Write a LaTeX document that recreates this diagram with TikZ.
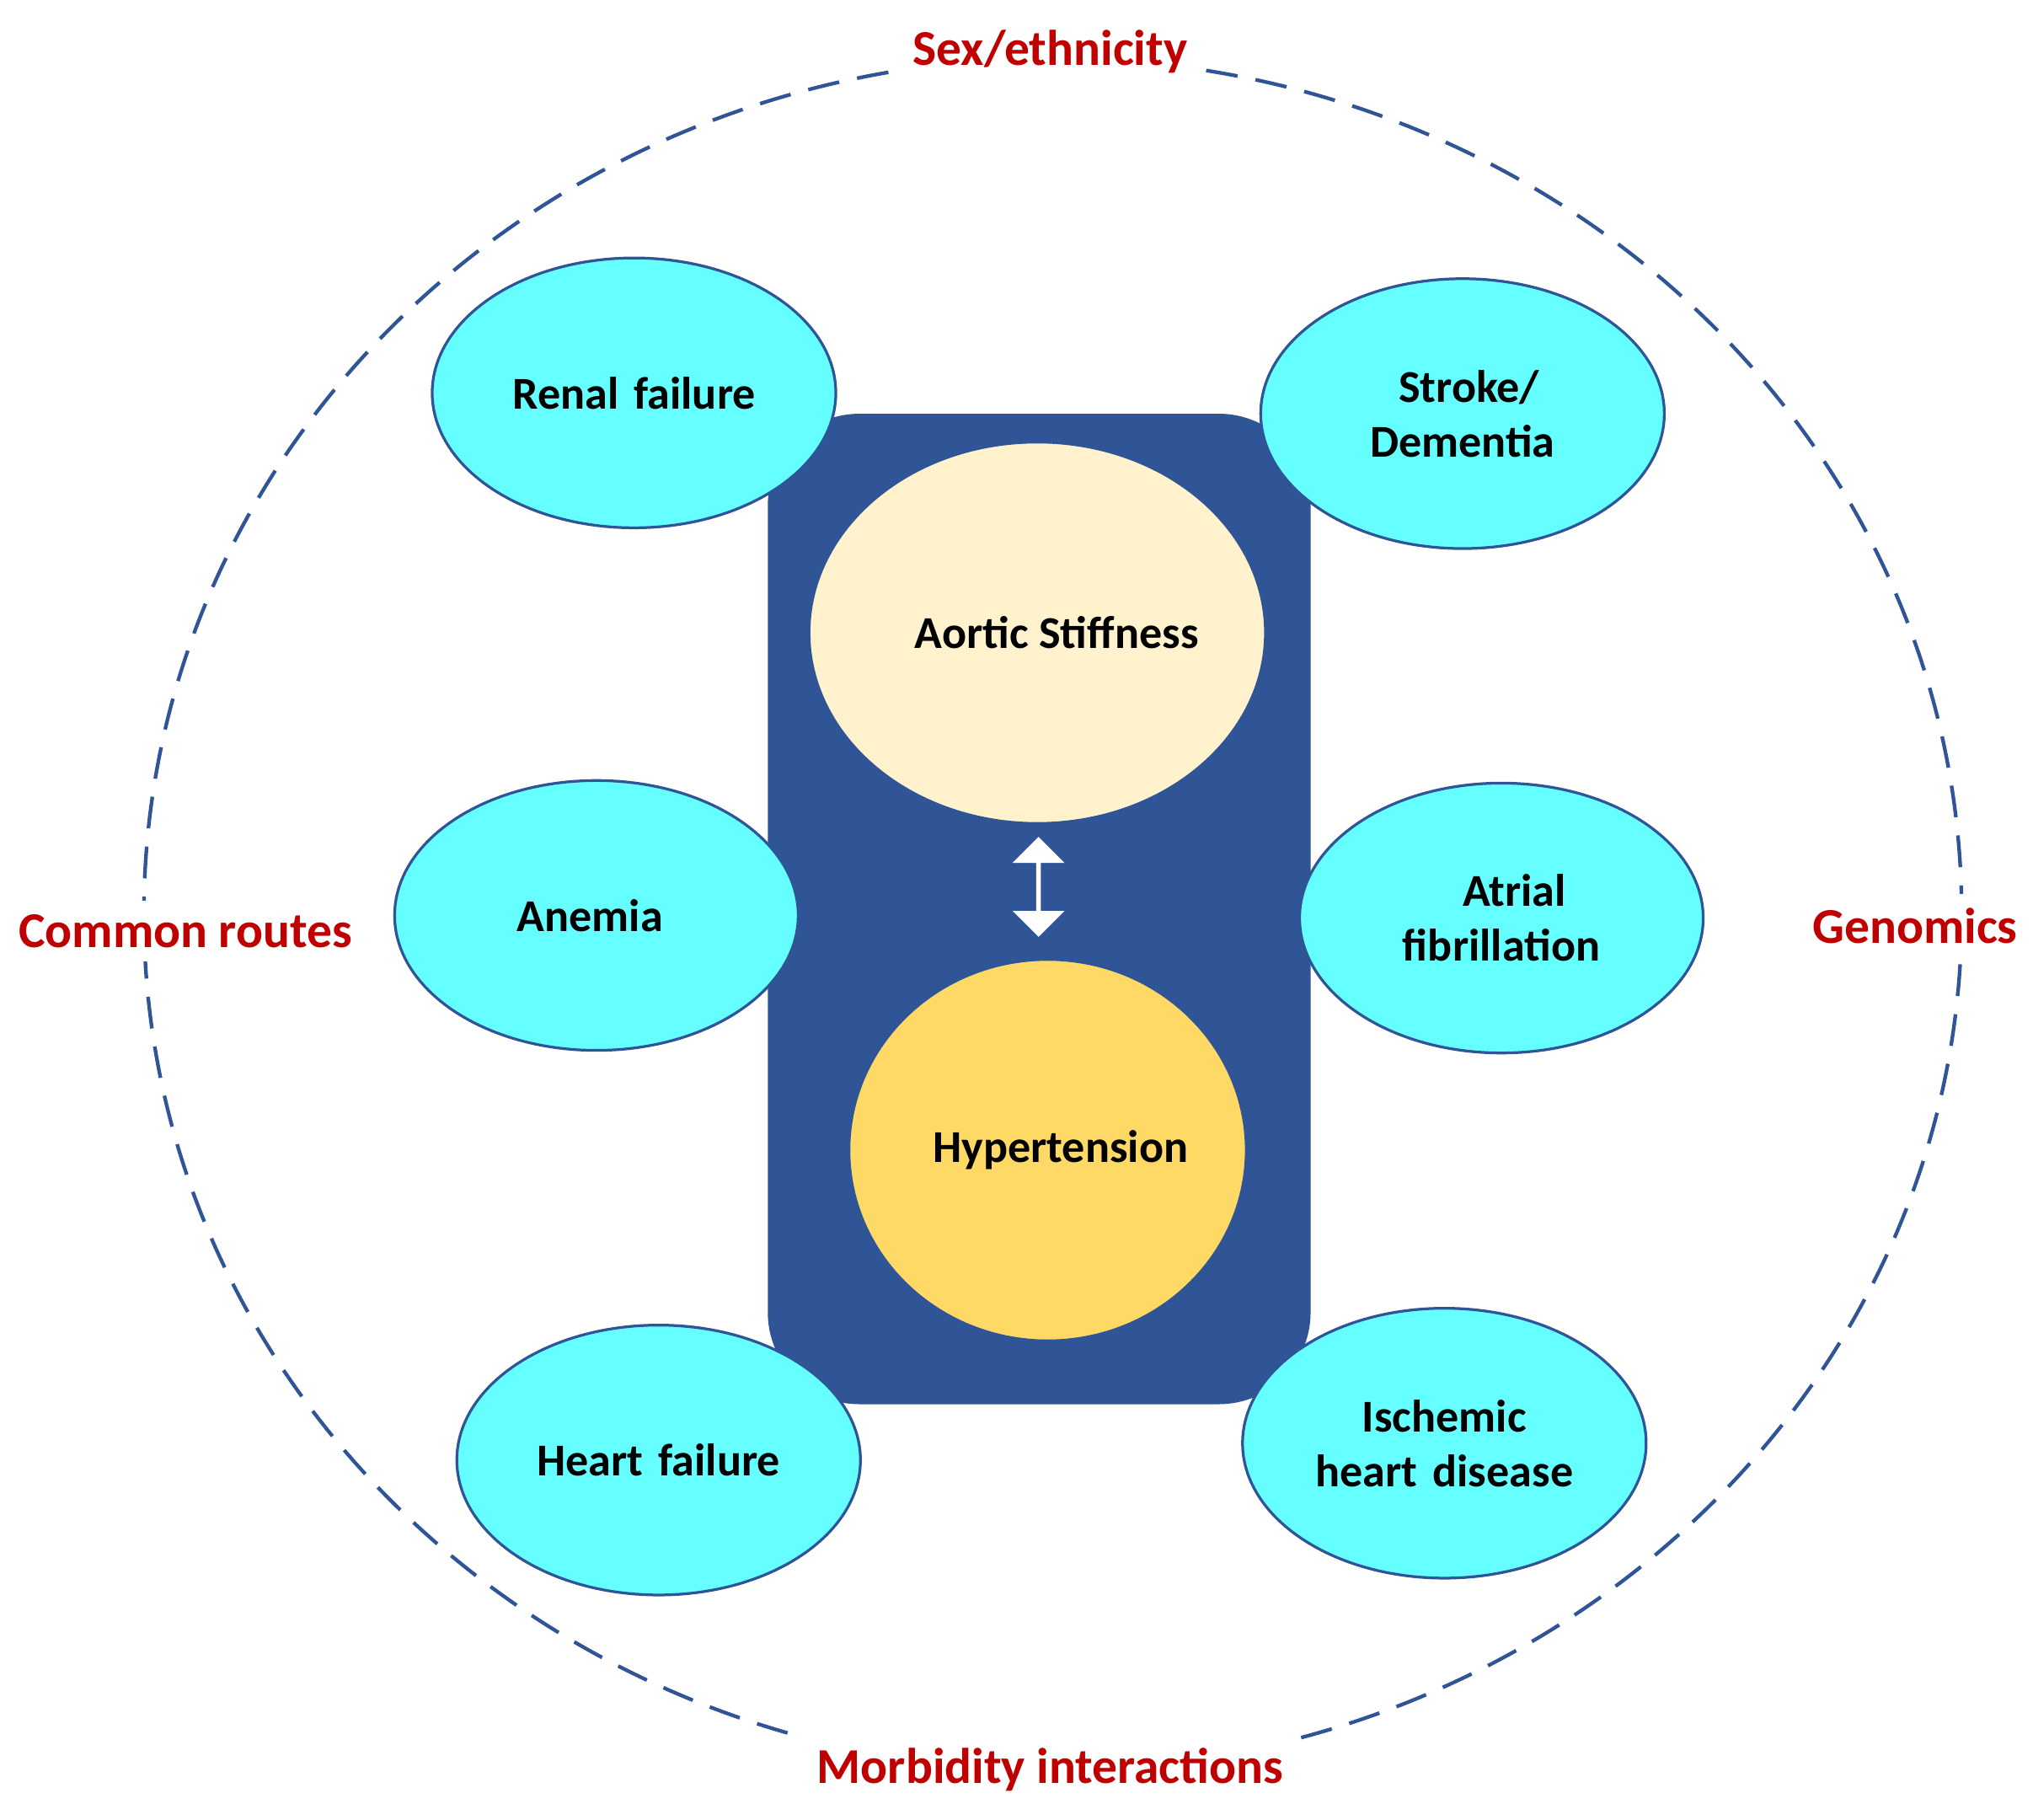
\documentclass[tikz,border=0pt]{standalone}
\usepackage{fontspec}
\setmainfont{Carlito}
\usetikzlibrary{shapes.geometric,shapes.arrows}
\definecolor{cyanf}{HTML}{66FFFF}
\definecolor{edgeb}{HTML}{2F5597}
\definecolor{redt}{HTML}{C00000}
\definecolor{cream}{HTML}{FFF2CC}
\definecolor{gold}{HTML}{FFD966}
\begin{document}
\begin{tikzpicture}[x=0.01cm,y=-0.01cm,
  dis/.style={ellipse,draw=edgeb,line width=0.6pt,fill=cyanf,minimum width=234\pgflinewidth,inner sep=0pt,
     text width=2.2cm,align=center,font=\bfseries\fontsize{10pt}{12pt}\selectfont},
  lab/.style={fill=white,text=redt,font=\bfseries\fontsize{11pt}{13pt}\selectfont,inner sep=3pt},
  big/.style={ellipse,draw=edgeb,line width=0.6pt,inner sep=0pt,font=\bfseries\fontsize{10pt}{12pt}\selectfont}]
\useasboundingbox (0,0) rectangle (1568,1403);
\draw[edgeb,line width=0.8pt,dash pattern=on 7pt off 4pt] (812,705) ellipse [x radius=701,y radius=660];
\node[lab] (sex) at (810,40) {Sex/ethnicity};
\node[lab] (cr) at (143,718) {Common routes};
\node[lab] (gen) at (1477,714) {Genomics};
\node[lab] (mi) at (810,1365) {Morbidity interactions};
\node[draw=edgeb,fill=edgeb,rounded corners=0.7cm,minimum width=4.17cm,minimum height=7.62cm] (box) at (801.5,701) {};
\node[big,fill=cream,minimum width=3.04cm,minimum height=2.94cm] (as) at (800,488) {\hspace{0.3cm}Aortic Stiffness};
\node[big,fill=gold,minimum width=3.06cm,minimum height=2.94cm] (ht) at (808,887) {\hspace{0.2cm}Hypertension};
\node[double arrow,fill=white,draw=none,rotate=90,minimum width=0.4cm,minimum height=0.77cm,double arrow head extend=0.07cm,inner sep=0pt] (arr) at (801,684) {};
\node[dis,minimum width=2.34cm,minimum height=2.08cm] (rf) at (489,303) {Renal failure};
\node[dis,minimum width=2.34cm,minimum height=2.08cm] (sd) at (1128,319) {\hspace{0.1cm}Stroke/\\Dementia};
\node[dis,minimum width=2.34cm,minimum height=2.08cm] (an) at (460,706) {\hspace{-0.1cm}Anemia};
\node[dis,minimum width=2.34cm,minimum height=2.08cm] (af) at (1158,708) {\hspace{0.2cm}Atrial\\fibrillation};
\node[dis,minimum width=2.34cm,minimum height=2.08cm] (hf) at (508,1126) {Heart failure};
\node[dis,minimum width=2.34cm,minimum height=2.08cm] (ih) at (1114,1113) {Ischemic\\heart disease};
\end{tikzpicture}
\end{document}
